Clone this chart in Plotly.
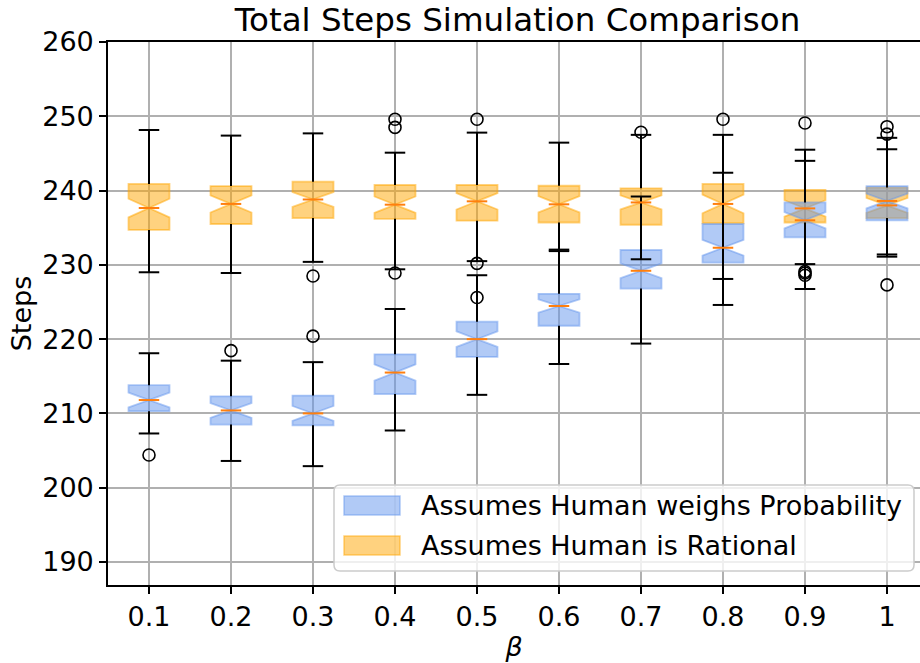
import plotly.graph_objects as go

# ---------------- data ----------------
beta_labels = ["0.1", "0.2", "0.3", "0.4", "0.5", "0.6", "0.7", "0.8", "0.9", "1"]
positions = list(range(1, len(beta_labels) + 1))

# Assumes Human is Rational (orange)
rat_q1 = [234.7, 235.5, 236.3, 236.2, 235.95, 235.7, 235.4, 235.6, 235.7, 236.3]
rat_med = [237.65, 238.2, 238.8, 238.1, 238.55, 238.15, 238.4, 238.2, 237.6, 238.0]
rat_q3 = [240.9, 240.6, 241.2, 240.75, 240.75, 240.65, 240.3, 240.9, 240.1, 240.4]
rat_low = [229.0, 228.9, 230.4, 229.4, 230.5, 231.85, 230.75, 228.1, 230.1, 231.1]
rat_up = [248.15, 247.4, 247.7, 245.1, 247.8, 246.45, 247.5, 247.5, 245.5, 247.1]
rat_notch = [1.25, 1.15, 1.0, 1.1, 1.1, 1.1, 0.95, 1.25, 1.1, 1.0]
rat_out_pos = [3, 4, 4, 4, 5, 5, 5, 7, 8, 9, 9, 9, 9, 10, 10]
rat_out_val = [228.5, 249.6, 248.5, 228.9, 249.6, 230.2, 225.6, 247.85, 249.6,
               249.1, 228.6, 228.9, 229.1, 248.6, 247.6]

# Assumes Human weighs Probability (blue)
prob_q1 = [210.3, 208.5, 208.4, 212.6, 217.6, 221.8, 226.8, 230.3, 233.7, 236.0]
prob_med = [211.8, 210.4, 210.0, 215.5, 220.0, 224.46, 229.2, 232.3, 236.0, 238.6]
prob_q3 = [213.8, 212.3, 212.4, 217.96, 222.35, 226.1, 232.0, 235.5, 238.4, 240.6]
prob_low = [207.3, 203.6, 202.9, 207.7, 212.5, 216.65, 219.4, 224.6, 226.75, 231.4]
prob_up = [218.1, 217.1, 216.9, 224.06, 228.6, 232.05, 239.2, 242.4, 244.0, 245.56]
prob_notch = [1.0, 1.0, 1.0, 1.1, 1.05, 0.9, 1.0, 1.05, 1.1, 1.0]
prob_out_pos = [1, 2, 3, 10]
prob_out_val = [204.4, 218.45, 220.4, 227.3]

y_ticks = [190, 200, 210, 220, 230, 240, 250, 260]

# ---------------- styles ----------------
BLUE = "rgba(100,149,237,0.5)"
ORANGE = "rgba(255,165,0,0.5)"
MEDIAN = "#ff7f0e"
FONT = "DejaVu Sans"
FS = 27
BOX_W = 0.5
CAP_HALF = BOX_W / 4
NOTCH_HALF = BOX_W / 4

fig = go.Figure()


def add_box(name, q1, med, q3, low, up, notch, color):
    fig.add_trace(go.Box(
        name=name, x=positions, q1=q1, median=med, q3=q3,
        lowerfence=low, upperfence=up, notchspan=notch,
        notched=True, notchwidth=0.5, width=BOX_W, whiskerwidth=0,
        fillcolor=color, line=dict(color=color, width=1.8),
        showlegend=False, hoverinfo="skip",
    ))


def whisker_xy(q1, q3, low, up):
    xs, ys = [], []
    for p, a, b, lo, hi in zip(positions, q1, q3, low, up):
        xs += [p, p, None, p, p, None]
        ys += [a, lo, None, b, hi, None]
        xs += [p - CAP_HALF, p + CAP_HALF, None, p - CAP_HALF, p + CAP_HALF, None]
        ys += [lo, lo, None, hi, hi, None]
    return xs, ys


add_box("Assumes Human is Rational", rat_q1, rat_med, rat_q3, rat_low, rat_up, rat_notch, ORANGE)
add_box("Assumes Human weighs Probability", prob_q1, prob_med, prob_q3, prob_low, prob_up, prob_notch, BLUE)

for q1, q3, low, up in [(rat_q1, rat_q3, rat_low, rat_up), (prob_q1, prob_q3, prob_low, prob_up)]:
    wx, wy = whisker_xy(q1, q3, low, up)
    fig.add_trace(go.Scatter(x=wx, y=wy, mode="lines", line=dict(color="black", width=2),
                             showlegend=False, hoverinfo="skip"))

mx, my = [], []
for med in (rat_med, prob_med):
    for p, m in zip(positions, med):
        mx += [p - NOTCH_HALF, p + NOTCH_HALF, None]
        my += [m, m, None]
fig.add_trace(go.Scatter(x=mx, y=my, mode="lines", line=dict(color=MEDIAN, width=2),
                         showlegend=False, hoverinfo="skip"))

fig.add_trace(go.Scatter(
    x=rat_out_pos + prob_out_pos, y=rat_out_val + prob_out_val, mode="markers",
    marker=dict(symbol="circle-open", size=12, color="black", line=dict(width=1.6)),
    showlegend=False, hoverinfo="skip"))

# ---------------- layout ----------------
W, H = 920, 663
ML, MR, MT, MB = 108, 0, 42, 78
PW, PH = W - ML - MR, H - MT - MB


def px(x):
    return (x - ML) / PW


def py(y):
    return (H - MB - y) / PH


fig.update_layout(
    width=W, height=H,
    margin=dict(l=ML, r=MR, t=MT, b=MB, pad=0),
    paper_bgcolor="white", plot_bgcolor="white",
    font=dict(family=FONT, size=FS, color="black"),
    boxmode="overlay",
    title=dict(text="Total Steps Simulation Comparison", x=px(517.5), xanchor="center",
               xref="paper", y=1 - 20 / H, yref="container", yanchor="middle",
               font=dict(size=32.5, family=FONT, color="black")),
    xaxis=dict(range=[0.5, 0.5 + PW / 82.0], tickmode="array", tickvals=positions,
               ticktext=beta_labels, showgrid=True, gridcolor="#b0b0b0", gridwidth=1.5,
               showline=True, linecolor="black", linewidth=1.6, mirror=True,
               ticks="outside", ticklen=7, tickwidth=1.6, tickcolor="black",
               zeroline=False, title=dict(text="<i>β</i>", standoff=6,
                                          font=dict(size=FS, family=FONT))),
    yaxis=dict(range=[186.9, 260], tickmode="array", tickvals=y_ticks,
               showgrid=True, gridcolor="#b0b0b0", gridwidth=1.5,
               showline=True, linecolor="black", linewidth=1.6, mirror=False,
               ticks="outside", ticklen=7, tickwidth=1.6, tickcolor="black",
               zeroline=False, title=dict(text="Steps", standoff=3,
                                          font=dict(size=FS, family=FONT))),
)

# ---------------- legend (matplotlib-style box) ----------------
x0, x1, y0, y1, r = 334, 914, 485, 571, 6
path = (f"M {px(x0 + r)} {py(y0)} L {px(x1 - r)} {py(y0)} "
        f"Q {px(x1)} {py(y0)} {px(x1)} {py(y0 + r)} L {px(x1)} {py(y1 - r)} "
        f"Q {px(x1)} {py(y1)} {px(x1 - r)} {py(y1)} L {px(x0 + r)} {py(y1)} "
        f"Q {px(x0)} {py(y1)} {px(x0)} {py(y1 - r)} L {px(x0)} {py(y0 + r)} "
        f"Q {px(x0)} {py(y0)} {px(x0 + r)} {py(y0)} Z")
fig.add_shape(type="path", path=path, xref="paper", yref="paper", layer="above",
              fillcolor="rgba(255,255,255,0.8)", line=dict(color="#cccccc", width=1.5))

legend_items = [("Assumes Human weighs Probability", BLUE, 505.5),
                ("Assumes Human is Rational", ORANGE, 545.5)]
for label, color, cy in legend_items:
    fig.add_shape(type="rect", xref="paper", yref="paper", layer="above",
                  x0=px(344), x1=px(400), y0=py(cy + 9.5), y1=py(cy - 9.5),
                  fillcolor=color, line=dict(color=color, width=1.5))
    fig.add_annotation(text=label, xref="paper", yref="paper", x=px(419), y=py(cy),
                       xanchor="left", yanchor="middle", showarrow=False,
                       font=dict(size=FS, family=FONT, color="black"))

fig.write_html("out.html")
